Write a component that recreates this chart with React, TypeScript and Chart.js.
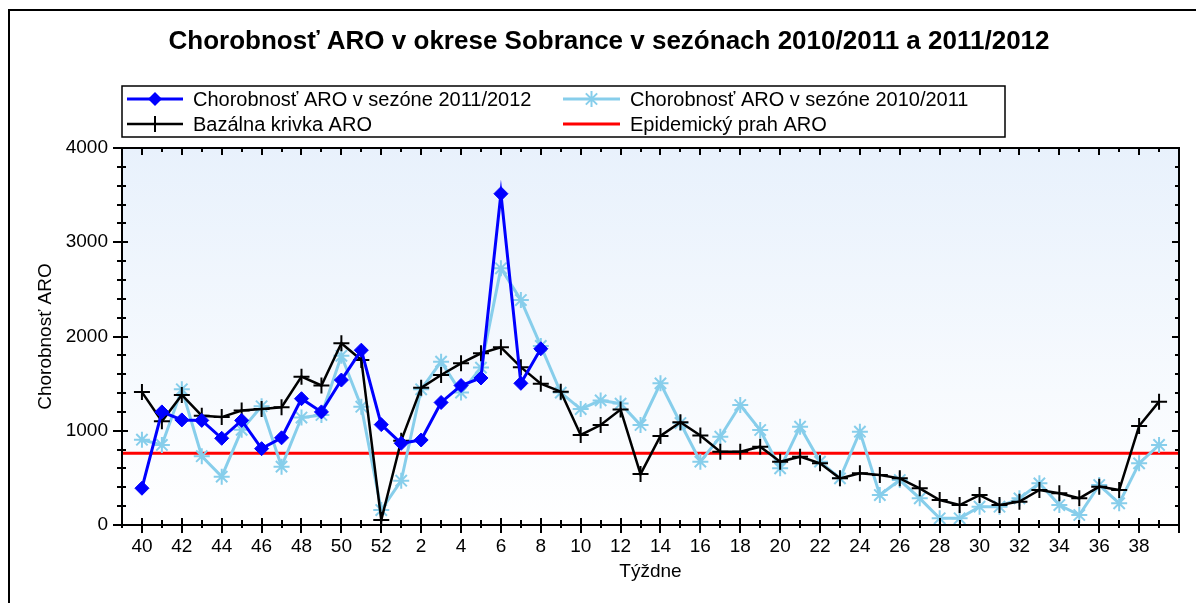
import React, { useEffect, useRef } from 'react';
import { Chart, registerables } from 'chart.js';

Chart.register(...registerables);

const WEEKS = [40, 41, 42, 43, 44, 45, 46, 47, 48, 49, 50, 51, 52,
  1, 2, 3, 4, 5, 6, 7, 8, 9, 10, 11, 12, 13, 14, 15, 16, 17, 18, 19, 20,
  21, 22, 23, 24, 25, 26, 27, 28, 29, 30, 31, 32, 33, 34, 35, 36, 37, 38, 39];

const SEASON_2011_2012 = [390, 1200, 1115, 1110, 920, 1110, 810, 925, 1340, 1200, 1538, 1855, 1065,
  867, 902, 1300, 1480, 1560, 3515, 1503, 1870];

const SEASON_2010_2011 = [905, 849, 1440, 730, 513, 1010, 1260, 619, 1140, 1167, 1795, 1255, 159,
  470, 1440, 1733, 1405, 1670, 2724, 2387, 1900, 1405, 1230, 1322, 1288, 1061, 1503, 1082, 672, 937,
  1273, 1008, 601, 1043, 672, 495, 990, 318, 477, 283, 71, 71, 194, 194, 283, 442, 212, 106, 424, 230,
  654, 849];

const BASAL = [1410, 1100, 1380, 1160, 1145, 1215, 1230, 1250, 1574, 1480, 1928, 1751, 53,
  895, 1455, 1592, 1715, 1822, 1885, 1675, 1500, 1415, 955, 1061, 1225, 540, 945, 1090, 950, 778,
  778, 831, 672, 725, 655, 495, 548, 531, 495, 389, 265, 212, 318, 212, 248, 371, 336, 283, 407, 371,
  1050, 1309];

const THRESHOLD = 760;

const TITLE = 'Chorobnosť ARO v okrese Sobrance v sezónach 2010/2011 a 2011/2012';
const LABEL_2011 = 'Chorobnosť ARO v sezóne 2011/2012';
const LABEL_2010 = 'Chorobnosť ARO v sezóne 2010/2011';
const LABEL_BASAL = 'Bazálna krivka ARO';
const LABEL_THRESHOLD = 'Epidemický prah ARO';
const Y_TITLE = 'Chorobnosť ARO';
const X_TITLE = 'Týždne';

const FONT = '"Liberation Sans", Arial, Helvetica, sans-serif';

const toPoints = (arr: number[]) => arr.map((v, i) => ({ x: i, y: v }));

function drawMarker(ctx: CanvasRenderingContext2D, style: string, x: number, y: number, r: number, color: string, lw: number) {
  ctx.save();
  ctx.strokeStyle = color;
  ctx.fillStyle = color;
  ctx.lineWidth = lw;
  ctx.beginPath();
  if (style === 'rectRot') {
    ctx.moveTo(x, y - r);
    ctx.lineTo(x + r, y);
    ctx.lineTo(x, y + r);
    ctx.lineTo(x - r, y);
    ctx.closePath();
    ctx.fill();
  } else if (style === 'cross') {
    ctx.moveTo(x - r, y); ctx.lineTo(x + r, y);
    ctx.moveTo(x, y - r); ctx.lineTo(x, y + r);
    ctx.stroke();
  } else if (style === 'star') {
    ctx.moveTo(x - r, y); ctx.lineTo(x + r, y);
    ctx.moveTo(x, y - r); ctx.lineTo(x, y + r);
    const d = r * Math.SQRT1_2;
    ctx.moveTo(x - d, y - d); ctx.lineTo(x + d, y + d);
    ctx.moveTo(x - d, y + d); ctx.lineTo(x + d, y - d);
    ctx.stroke();
  }
  ctx.restore();
}

const decorPlugin = {
  id: 'decor',
  beforeDraw(chart: any) {
    const { ctx, chartArea } = chart;
    const { left, right, top, bottom } = chartArea;
    ctx.save();
    ctx.fillStyle = '#ffffff';
    ctx.fillRect(0, 0, chart.width, chart.height);
    const g = ctx.createLinearGradient(0, top, 0, bottom);
    g.addColorStop(0, 'rgb(232,241,252)');
    g.addColorStop(1, 'rgb(255,255,255)');
    ctx.fillStyle = g;
    ctx.fillRect(left, top, right - left, bottom - top);
    // outer frame
    ctx.strokeStyle = '#000';
    ctx.lineWidth = 2;
    ctx.beginPath();
    ctx.moveTo(9, chart.height);
    ctx.lineTo(9, 10);
    ctx.lineTo(chart.width, 10);
    ctx.stroke();
    // title
    ctx.fillStyle = '#000';
    ctx.font = 'bold 26px ' + FONT;
    ctx.textAlign = 'center';
    ctx.textBaseline = 'middle';
    ctx.fillText(TITLE, 609, 42);
    // legend
    ctx.lineWidth = 1.5;
    ctx.strokeStyle = '#000';
    ctx.strokeRect(122, 86, 883, 51);
    ctx.font = '20px ' + FONT;
    ctx.textAlign = 'left';
    const rows = [
      { x0: 127, x1: 183, tx: 193, y: 99, color: '#0000ff', lw: 3, style: 'rectRot', r: 7, text: LABEL_2011 },
      { x0: 563, x1: 620, tx: 630, y: 99, color: '#87ceeb', lw: 3, style: 'star', r: 8, text: LABEL_2010 },
      { x0: 127, x1: 183, tx: 193, y: 124, color: '#000000', lw: 2.5, style: 'cross', r: 8, text: LABEL_BASAL },
      { x0: 563, x1: 620, tx: 630, y: 124, color: '#ff0000', lw: 3, style: '', r: 0, text: LABEL_THRESHOLD },
    ];
    rows.forEach((it) => {
      ctx.strokeStyle = it.color;
      ctx.lineWidth = it.lw;
      ctx.beginPath();
      ctx.moveTo(it.x0, it.y);
      ctx.lineTo(it.x1, it.y);
      ctx.stroke();
      if (it.style) drawMarker(ctx, it.style, (it.x0 + it.x1) / 2, it.y, it.r, it.color, it.style === 'rectRot' ? 1 : 2);
      ctx.fillStyle = '#000';
      ctx.fillText(it.text, it.tx, it.y + 1);
    });
    ctx.restore();
  },
  afterDraw(chart: any) {
    const { ctx, chartArea, scales } = chart;
    const { left, right, top, bottom } = chartArea;
    const xs = scales.x;
    const ys = scales.y;
    ctx.save();
    ctx.strokeStyle = '#000';
    ctx.lineWidth = 2;
    ctx.strokeRect(left, top, right - left, bottom - top);
    ctx.lineWidth = 2;
    ctx.beginPath();
    for (let v = 0; v <= 4000; v += 200) {
      const y = Math.round(ys.getPixelForValue(v));
      const major = v % 1000 === 0;
      ctx.moveTo(left - (major ? 9 : 5), y);
      ctx.lineTo(left + (major ? 6 : 4), y);
      ctx.moveTo(right - (major ? 7 : 4), y);
      ctx.lineTo(right, y);
    }
    for (let i = -1; i <= WEEKS.length; i++) {
      const x = Math.round(xs.getPixelForValue(i));
      const major = i % 2 === 0;
      ctx.moveTo(x, bottom - (major ? 7 : 5));
      ctx.lineTo(x, bottom + (major ? 8 : 3));
      ctx.moveTo(x, top);
      ctx.lineTo(x, top + (major ? 7 : 4));
    }
    ctx.stroke();
    ctx.restore();
  },
};

export default function App() {
  const ref = useRef<HTMLCanvasElement | null>(null);
  useEffect(() => {
    if (!ref.current) return;
    const chart = new Chart(ref.current, {
      type: 'line',
      data: {
        datasets: [
          {
            label: LABEL_2011,
            data: toPoints(SEASON_2011_2012),
            borderColor: '#0000ff',
            backgroundColor: '#0000ff',
            borderWidth: 3,
            pointStyle: 'rectRot',
            pointRadius: 7,
            pointBorderWidth: 1,
            tension: 0,
          },
          {
            label: LABEL_BASAL,
            data: toPoints(BASAL),
            borderColor: '#000000',
            backgroundColor: '#000000',
            borderWidth: 2.5,
            pointStyle: 'cross',
            pointRadius: 8,
            pointBorderWidth: 2,
            tension: 0,
          },
          {
            label: LABEL_2010,
            data: toPoints(SEASON_2010_2011),
            borderColor: '#87ceeb',
            backgroundColor: '#87ceeb',
            borderWidth: 3,
            pointStyle: 'star',
            pointRadius: 8,
            pointBorderWidth: 2,
            tension: 0,
          },
          {
            label: LABEL_THRESHOLD,
            data: toPoints(WEEKS.map(() => THRESHOLD)).map((p, i, a) => ({ x: i === 0 ? -1 : i === a.length - 1 ? WEEKS.length : p.x, y: p.y })),
            borderColor: '#ff0000',
            backgroundColor: '#ff0000',
            borderWidth: 3,
            pointRadius: 0,
            tension: 0,
          },
        ],
      },
      options: {
        responsive: false,
        animation: false,
        devicePixelRatio: 1,
        layout: { padding: { top: 148, right: 17, left: 0, bottom: 0 } },
        plugins: {
          legend: { display: false },
          title: { display: false },
          tooltip: { enabled: false },
        },
        events: [],
        scales: {
          x: {
            type: 'linear',
            min: -1,
            max: WEEKS.length,
            grid: { display: false, drawTicks: false },
            border: { display: false },
            afterFit: (s: any) => { s.height = 78; },
            ticks: {
              stepSize: 1,
              autoSkip: false,
              maxRotation: 0,
              padding: 10,
              color: '#000',
              font: { family: FONT, size: 19 },
              callback: (v: any) => {
                const i = Math.round(Number(v));
                if (i >= 0 && i < WEEKS.length && i % 2 === 0) return String(WEEKS[i]);
                return '';
              },
            },
            title: {
              display: true,
              text: X_TITLE,
              color: '#000',
              font: { family: FONT, size: 19 },
              padding: { top: 0, bottom: 20 },
            },
          },
          y: {
            min: 0,
            max: 4000,
            grid: { display: false, drawTicks: false },
            border: { display: false },
            afterFit: (s: any) => { s.width = 122; },
            ticks: {
              stepSize: 1000,
              padding: 14,
              color: '#000',
              font: { family: FONT, size: 19 },
              callback: (v: any) => String(v),
            },
            title: {
              display: true,
              text: Y_TITLE,
              color: '#000',
              font: { family: FONT, size: 19 },
              padding: { top: 34, bottom: 0 },
            },
          },
        },
      },
      plugins: [decorPlugin],
    } as any);
    return () => chart.destroy();
  }, []);
  return (
    <div style={{ position: 'fixed', left: 0, top: 0, width: 1196, height: 603, background: '#fff' }}>
      <canvas ref={ref} width={1196} height={603} style={{ display: 'block', width: 1196, height: 603 }} />
    </div>
  );
}
